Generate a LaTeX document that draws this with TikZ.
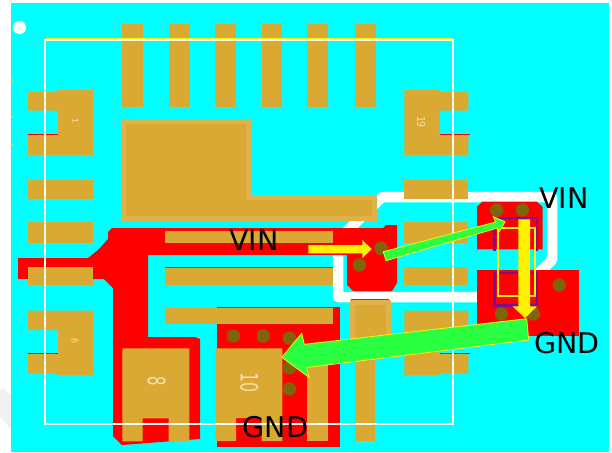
\documentclass[tikz,border=0pt]{standalone}
\usepackage{fontspec}
\setmainfont{DejaVu Sans}
\definecolor{boardcyan}{HTML}{00FFFF}
\definecolor{padgold}{HTML}{DAA934}
\definecolor{padedge}{HTML}{E0B24A}
\definecolor{viabrown}{HTML}{806508}
\definecolor{arrowgreen}{HTML}{2BFF41}
\definecolor{silk}{HTML}{F2E2AE}
\definecolor{maskpurple}{HTML}{800E8C}
\tikzset{
  pad/.style={fill=padgold},
  trace/.style={fill=red},
  via/.style={fill=viabrown},
  bigarrow/.style={fill=arrowgreen,draw=yellow,line width=.8pt,line join=miter},
  netlabel/.style={font=\fontsize{28.5}{30}\selectfont,text=black,inner sep=0pt},
  padnum/.style={text=silk,inner sep=0pt,rotate=-90},
}
\begin{document}
\begin{tikzpicture}[x=1pt,y=-1pt]
  \useasboundingbox (0,0) rectangle (612,452);
  \fill[white] (0,0) rectangle (612,452);
  \fill[black!6] (3,388) -- (11,396) -- (11,429) -- (0,416) -- (0,390) -- cycle;
  \fill[boardcyan] (11,3) rectangle (609,452);
  \foreach \h in {79,116,144}
    \fill[yellow!70!boardcyan] (11,\h) rectangle (12.5,\h+2);
  \fill[white!96!yellow] (19.5,27.5) circle (6.6);
  % clearance band
  \draw[white,line width=10.5pt,line join=round] (382,197) -- (552,197) -- (552,260) -- (535,277) -- (530,297) -- (338,297) -- (338,240) -- cycle;
  % copper
  \fill[trace] (18,258) -- (88,258) -- (98,250) -- (108,239) -- (108,232) -- (112,228) -- (383,228) -- (386,225) -- (397,225) -- (397,283) -- (392,291) -- (353,291) -- (347,285) -- (347,255) -- (148,255) -- (148,337) -- (195,337) -- (200,339) -- (200,439) -- (122,445) -- (113,436) -- (113,288) -- (104,279) -- (18,279) -- cycle;
  \fill[trace] (216.7,307) rectangle (339.5,447);
  \fill[trace] (477,207) -- (482,201.7) -- (537,201.7) -- (542.7,207) -- (542.7,249.3) -- (477,249.3) -- cycle;
  \fill[trace] (477,270) rectangle (579.3,336);
  % pads along the top
  \foreach \x in {122,169,215,261.5,307,355}
    \fill[pad] (\x,24) rectangle (\x+20.5,107);
  % thermal pad
  \fill[padedge] (121,119) -- (251,119) -- (251,195) -- (377,195) -- (377,221) -- (121,221) -- cycle;
  \fill[pad] (126,123.5) -- (246,123.5) -- (246,200) -- (372,200) -- (372,216) -- (126,216) -- cycle;
  % side pads
  \foreach \y/\yy in {180/199,222/243,266.7/285.3} {
    \fill[pad] (28,\y) rectangle (93,\yy);
    \fill[pad] (404.3,\y) rectangle (468.3,\yy);
  }
  % corner pads
  \fill[pad] (28,91.5) -- (58,91.5) -- (58,90) -- (93,90) -- (93,155) -- (28,155) -- (28,134.5) -- (58,134.5) -- (58,110.7) -- (28,110.7) -- cycle;
  \fill[pad] (404.3,90) -- (439.7,90) -- (439.7,91.5) -- (468.3,91.5) -- (468.3,110.7) -- (439.7,110.7) -- (439.7,134.5) -- (468.3,134.5) -- (468.3,155) -- (404.3,155) -- cycle;
  \fill[pad] (28,310.7) -- (93,310.7) -- (93,375) -- (58,375) -- (58,373.7) -- (28,373.7) -- (28,354) -- (58,354) -- (58,330) -- (28,330) -- cycle;
  \fill[pad] (404.3,310.7) -- (468.3,310.7) -- (468.3,330) -- (439.7,330) -- (439.7,353.5) -- (468.3,353.5) -- (468.3,373.7) -- (439.7,373.7) -- (439.7,375) -- (404.3,375) -- cycle;
  \foreach \x/\y in {28/134,439.7/134,28/353,439.7/353}
    \fill[red] (\x,\y) rectangle (\x+30,\y+1.2);
  % long pads
  \fill[pad] (165,231) rectangle (333,243.3);
  \fill[red] (165,267) rectangle (333,268);
  \fill[pad] (165,268) rectangle (333,284.5);
  \fill[pad] (165,307.7) rectangle (333,324.3);
  % pads along the bottom
  \fill[pad] (122.3,348.3) -- (189.3,348.3) -- (189.3,441.3) -- (168.7,441.3) -- (168.7,418.3) -- (142.7,418.3) -- (142.7,441.3) -- (122.3,441.3) -- cycle;
  \fill[pad] (215.7,348.3) -- (282.3,348.3) -- (282.3,441) -- (261.7,441) -- (261.7,418) -- (236,418) -- (236,441) -- (215.7,441) -- cycle;
  \fill[pad] (307.3,348.3) rectangle (327.5,441);
  \fill[padedge] (349.7,300) rectangle (390.7,345);
  \fill[pad] (355,305) rectangle (386,345);
  \fill[pad] (355.3,345) rectangle (375.3,441);
  \fill[magenta] (351,298.8) rectangle (389,300);
  % vias
  \foreach \x/\y in {496.7/210,522.3/210,559.3/285,501.3/314,533.3/314,381/248.3,359.3/265,233.3/336,263.3/336,289.3/338,289.3/368,289.3/389}
    \fill[via] (\x,\y) circle (6.7);
  % part outlines
  \draw[maskpurple,line width=2.6pt] (494.5,251) -- (494.5,218) -- (537,218) -- (537,251);
  \draw[maskpurple,line width=2.6pt] (494.5,273) rectangle (537,305.5);
  \draw[yellow,line width=1.8pt] (497.7,228) rectangle (535,296);
  \draw[yellow,line width=1pt] (46,38.6) -- (452,38.6);
  \draw[white!96!yellow,line width=1.8pt] (45.3,40) rectangle (452.7,424.3);
  % pad numbers
  \node[padnum,font=\fontsize{8}{8}\selectfont] (numone) at (75.5,121) {1};
  \node[padnum,font=\fontsize{11}{11}\selectfont,xscale=.85] (numnineteen) at (421,122) {19};
  \node[padnum,font=\fontsize{9}{9}\selectfont,xscale=.85] (numsix) at (75,341) {6};
  \node[padnum,font=\fontsize{24}{24}\selectfont,xscale=.62] (numeight) at (156.7,381.7) {8};
  \node[padnum,font=\fontsize{24}{24}\selectfont,xscale=.66] (numten) at (249.3,382.7) {10};
  % arrows
  \fill[yellow] (308.3,245) -- (362.3,245) -- (362.3,240) -- (371.7,249) -- (362.3,258.3) -- (362.3,253.3) -- (308.3,253.3) -- cycle;
  \fill[yellow] (518.3,219.3) -- (530,219.3) -- (530,306.3) -- (537,306.3) -- (525,318) -- (512.5,306.3) -- (518.3,306.3) -- cycle;
  \draw[bigarrow] (383.3,251.7) -- (495.5,222) -- (493.3,216.7) -- (505,221.7) -- (499.3,231.7) -- (497.5,228) -- (386,260.7) -- cycle;
  \draw[bigarrow] (526.7,318.7) -- (304.3,344.3) -- (301.7,333.3) -- (281.7,357.3) -- (309,377.3) -- (306.7,367.5) -- (528.7,340) -- cycle;
  % net names
  \node[netlabel] (vintop) at (564,198.5) {VIN};
  \node[netlabel] (vinleft) at (254,240) {VIN};
  \node[netlabel] (gndright) at (567,343) {GND};
  \node[netlabel] (gndbottom) at (275.5,427) {GND};
\end{tikzpicture}
\end{document}
